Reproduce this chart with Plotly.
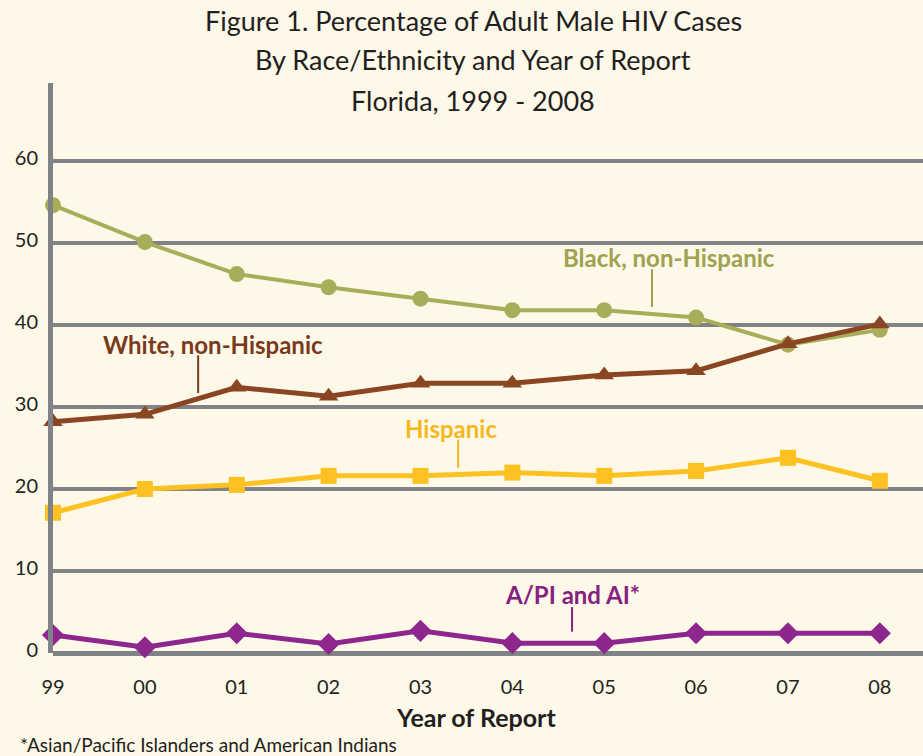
import plotly.graph_objects as go

years = ["99", "00", "01", "02", "03", "04", "05", "06", "07", "08"]
black = [54.6, 50.1, 46.2, 44.6, 43.2, 41.8, 41.8, 40.9, 37.6, 39.4]
white = [28.2, 29.1, 32.4, 31.3, 32.9, 32.9, 33.9, 34.4, 37.7, 40.1]
hispanic = [17.1, 20.0, 20.5, 21.6, 21.6, 22.0, 21.6, 22.2, 23.8, 21.0]
apiai = [2.2, 0.7, 2.4, 1.1, 2.7, 1.2, 1.2, 2.4, 2.4, 2.4]
yticks = [0, 10, 20, 30, 40, 50, 60]

xi = list(range(len(years)))
BG = "#FEF8E9"
GRID = "#808285"
FONT = "Lato"
TXT = "#231F20"

fig = go.Figure()
series = [
    (black, "Black, non-Hispanic", "#A9AD5A", "circle", 16, 4),
    (white, "White, non-Hispanic", "#8A4522", "triangle-up", 17, 5),
    (hispanic, "Hispanic", "#FDC121", "square", 16, 5),
    (apiai, "A/PI and AI*", "#8D278E", "diamond", 17, 5),
]
for vals, name, col, sym, sz, lw in series:
    fig.add_trace(go.Scatter(
        x=xi, y=vals, name=name, mode="lines+markers",
        line=dict(color=col, width=lw),
        marker=dict(color=col, symbol=sym, size=sz, line=dict(width=0)),
        cliponaxis=False, showlegend=False,
    ))

# series labels with leader lines
labels = [
    ("Black, non-Hispanic", "#9FA24E", 6.71, 48.2, 6.52, 46.8, 42.2),
    ("White, non-Hispanic", "#7A3A1C", 1.74, 37.6, 1.58, 36.3, 31.7),
    ("Hispanic", "#F4B81D", 4.33, 27.4, 4.41, 26.0, 22.6),
    ("A/PI and AI*", "#84227F", 5.65, 7.1, 5.65, 5.6, 2.6),
]
for text, col, tx, ty, lx, ly0, ly1 in labels:
    fig.add_annotation(x=tx, y=ty, text="<b>" + text + "</b>", showarrow=False,
                       font=dict(family=FONT, size=24, color=col))
    fig.add_shape(type="line", x0=lx, x1=lx, y0=ly0, y1=ly1,
                  line=dict(color=col, width=2))

# title lines
titles = ["Figure 1. Percentage of Adult Male HIV Cases",
          "By Race/Ethnicity and Year of Report",
          "Florida, 1999 - 2008"]
for t, py in zip(titles, [1.1105, 1.0404, 0.970]):
    fig.add_annotation(xref="paper", yref="paper", x=0.483, y=py, text=t,
                       showarrow=False, xanchor="center", yanchor="middle",
                       font=dict(family=FONT, size=27, color=TXT))

fig.add_annotation(xref="paper", yref="paper", x=0.486, y=-0.112, text="<b>Year of Report</b>",
                   showarrow=False, xanchor="center", yanchor="middle",
                   font=dict(family=FONT, size=25, color=TXT))
fig.add_annotation(xref="paper", yref="paper", x=-0.040, y=-0.161, xanchor="left", yanchor="middle",
                   text="*Asian/Pacific Islanders and American Indians", showarrow=False,
                   font=dict(family=FONT, size=19, color=TXT))

fig.update_layout(
    width=923, height=756,
    paper_bgcolor=BG, plot_bgcolor=BG,
    margin=dict(l=53, r=0, t=83, b=103),
    font=dict(family=FONT, color=TXT),
    xaxis=dict(
        range=[0, 9.47], tickvals=xi, ticktext=years,
        showgrid=False, zeroline=False, showline=False, automargin=False,
        ticks="", ticklabelstandoff=20,
        tickfont=dict(family=FONT, size=20, color=TXT),
    ),
    yaxis=dict(
        range=[0, 69.5], tickvals=yticks, automargin=False,
        showgrid=True, gridcolor=GRID, gridwidth=4,
        zeroline=True, zerolinecolor=GRID, zerolinewidth=5,
        showline=True, linecolor=GRID, linewidth=5,
        ticks="", ticklabelstandoff=6, ticklabelshift=-3,
        tickfont=dict(family=FONT, size=20, color=TXT),
    ),
)

fig.write_html("out.html", config={"displayModeBar": False},
               post_script="document.body.style.margin='0';document.body.style.overflow='hidden';")
